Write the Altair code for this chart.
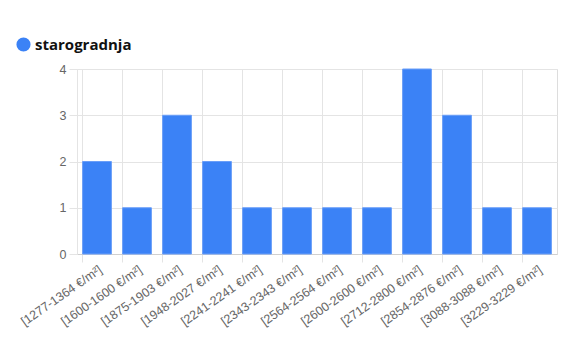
import altair as alt
import pandas as pd

categories = [
    "[1277-1364 €/m²]", "[1600-1600 €/m²]", "[1875-1903 €/m²]", "[1948-2027 €/m²]",
    "[2241-2241 €/m²]", "[2343-2343 €/m²]", "[2564-2564 €/m²]", "[2600-2600 €/m²]",
    "[2712-2800 €/m²]", "[2854-2876 €/m²]", "[3088-3088 €/m²]", "[3229-3229 €/m²]",
]
counts = [2, 1, 3, 2, 1, 1, 1, 1, 4, 3, 1, 1]
series_name = "starogradnja"

df = pd.DataFrame({"range": categories, "count": counts, "series": [series_name] * len(categories)})

xscale = alt.Scale(paddingInner=0.28, paddingOuter=0.14)

grid_axis = alt.Axis(orient="bottom", bandPosition=0, labels=False,
                     grid=True, gridColor="#e4e4e4", tickColor="#e4e4e4", tickSize=8,
                     domainColor="#d0d0d0")
label_axis = alt.Axis(orient="bottom", grid=False, ticks=False, domain=False,
                      labelAngle=-35, labelAlign="right", labelBaseline="top", labelPadding=9,
                      labelFontSize=12.5, labelColor="#666666", labelFont="Liberation Sans")

y_enc = alt.Y("count:Q", title=None,
              scale=alt.Scale(domain=[0, 4]),
              axis=alt.Axis(values=[0, 1, 2, 3, 4], format="d", labelFontSize=12.5,
                            labelColor="#666666", labelFont="Liberation Sans",
                            gridColor="#e4e4e4", tickColor="#e4e4e4", tickSize=8,
                            domain=True, domainColor="#e4e4e4", labelPadding=3))

bars = alt.Chart(df).mark_bar(
    fill="#3B82F6", stroke="#6A9EF8", strokeWidth=1
).encode(
    x=alt.X("range:N", sort=categories, title=None, scale=xscale, axis=grid_axis),
    y=y_enc,
    color=alt.Color("series:N", scale=alt.Scale(range=["#3B82F6"]),
                    legend=alt.Legend(title=None, orient="none", legendX=-61, legendY=-32,
                                      symbolType="circle", symbolSize=200, symbolStrokeWidth=0,
                                      labelFontSize=15, labelFontWeight="bold", labelColor="#111111",
                                      labelFont="Open Sans", labelOffset=4)),
)

labels = alt.Chart(df).mark_bar(opacity=0).encode(
    x=alt.X("range:N", sort=categories, title=None, scale=xscale, axis=label_axis),
    y=y_enc,
)

chart = alt.layer(bars, labels).resolve_axis(x="independent").properties(
    width=480, height=185,
    autosize=alt.AutoSizeParams(type="none"),
    padding={"left": 77, "top": 69, "right": 29, "bottom": 99},
).configure_view(stroke=None).configure(background="white")

chart.save("out.html", embed_options={"renderer": "svg", "actions": False})
